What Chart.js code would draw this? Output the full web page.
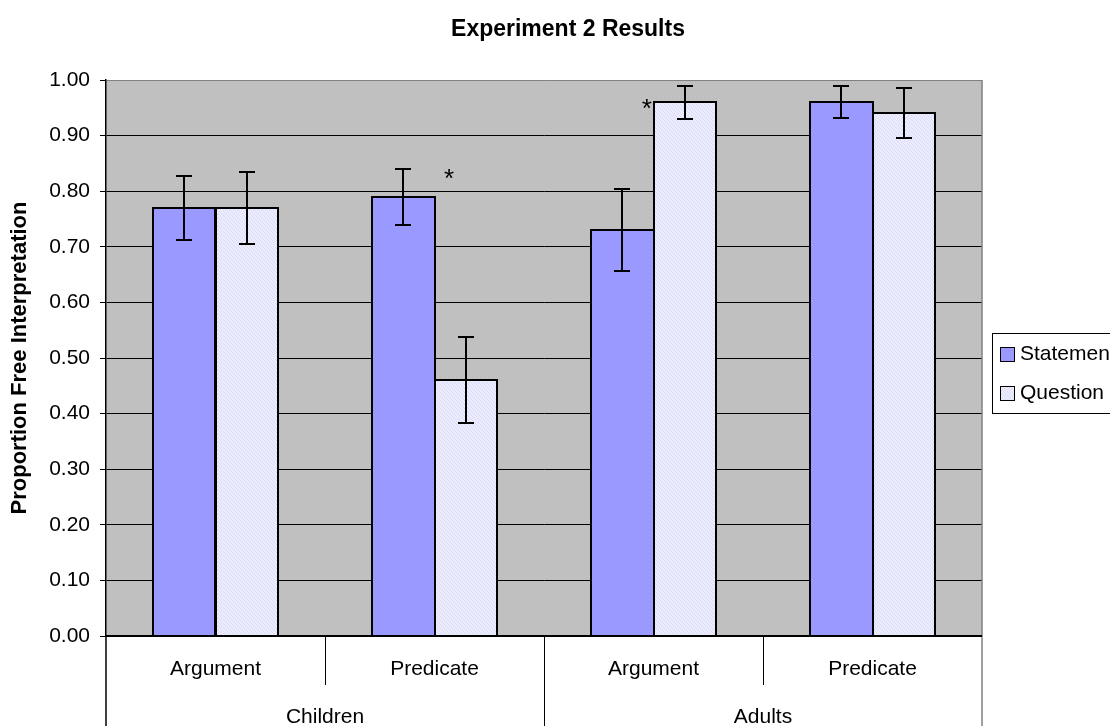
<!DOCTYPE html>
<html><head><meta charset="utf-8">
<script src="https://cdn.jsdelivr.net/npm/chart.js@4.4.1/dist/chart.umd.min.js"></script>
<style>html,body{margin:0;padding:0;background:#fff;overflow:hidden}canvas{display:block}</style>
</head><body>
<canvas id="c" width="1110" height="726"></canvas>
<script>
// ---- data ----
const chartTitle = 'Experiment 2 Results';
const yAxisTitle = 'Proportion Free Interpretation';
const categories = ['Argument', 'Predicate', 'Argument', 'Predicate'];
const groups = ['Children', 'Adults'];
const groupOfCategory = [0, 0, 1, 1];
const seriesNames = ['Statement', 'Question'];
const statementValues = [0.77, 0.79, 0.73, 0.96];
const questionValues = [0.77, 0.46, 0.96, 0.94];
const statementErrors = [0.057, 0.05, 0.074, 0.029];
const questionErrors = [0.065, 0.077, 0.03, 0.045];
const yTickValues = [0, 0.1, 0.2, 0.3, 0.4, 0.5, 0.6, 0.7, 0.8, 0.9, 1.0];
const significanceCategories = [1, 2];
const significanceValues = [0.829, 0.955];

// ---- styling ----
Chart.defaults.font.family = "'Liberation Sans', Arial, sans-serif";
Chart.defaults.color = '#000';
const FONT = "'Liberation Sans', Arial, sans-serif";
const canvas = document.getElementById('c');
const ctx0 = canvas.getContext('2d');

function makePattern(ctx) {
  const p = document.createElement('canvas');
  p.width = 4; p.height = 4;
  const g = p.getContext('2d');
  g.fillStyle = '#ececff'; g.fillRect(0, 0, 4, 4);
  g.fillStyle = '#d9d9f3';
  g.fillRect(0, 0, 1, 1); g.fillRect(2, 1, 1, 1); g.fillRect(1, 2, 1, 1); g.fillRect(3, 3, 1, 1);
  return ctx.createPattern(p, 'repeat');
}
const statementColor = '#9999ff';
const questionFill = makePattern(ctx0);
const seriesFills = [statementColor, questionFill];
const allErrors = [statementErrors, questionErrors];
const asteriskDx = [0.066, -0.03]; // fraction of category width

const decor = {
  id: 'decor',
  beforeDraw(chart) {
    const { ctx, chartArea: a } = chart;
    ctx.save();
    ctx.fillStyle = '#fff';
    ctx.fillRect(0, 0, chart.width, chart.height);
    ctx.fillStyle = '#c0c0c0';
    ctx.fillRect(a.left, a.top, a.right - a.left, a.bottom - a.top);
    ctx.restore();
  },
  afterDatasetsDraw(chart) {
    const { ctx } = chart;
    const y = chart.scales.y, x = chart.scales.x;
    ctx.save();
    ctx.strokeStyle = '#000';
    ctx.lineWidth = 2;
    // bar outlines
    chart.data.datasets.forEach((ds, i) => {
      chart.getDatasetMeta(i).data.forEach(bar => {
        const l = Math.round(bar.x - bar.width / 2), r = Math.round(bar.x + bar.width / 2);
        const t = Math.round(bar.y), b = Math.round(bar.base);
        ctx.beginPath();
        ctx.moveTo(l, b); ctx.lineTo(l, t); ctx.lineTo(r, t); ctx.lineTo(r, b);
        ctx.stroke();
      });
    });
    // error bars
    chart.data.datasets.forEach((ds, i) => {
      const meta = chart.getDatasetMeta(i);
      meta.data.forEach((bar, j) => {
        const v = ds.data[j], e = allErrors[i][j];
        const bx = Math.round(bar.x);
        const yt = Math.round(y.getPixelForValue(v + e)), yb = Math.round(y.getPixelForValue(v - e));
        ctx.beginPath();
        ctx.moveTo(bx, yt); ctx.lineTo(bx, yb);
        ctx.moveTo(bx - 8, yt); ctx.lineTo(bx + 8, yt);
        ctx.moveTo(bx - 8, yb); ctx.lineTo(bx + 8, yb);
        ctx.stroke();
      });
    });
    // significance asterisks
    const cw = x.getPixelForValue(1) - x.getPixelForValue(0);
    ctx.fillStyle = '#000';
    ctx.font = '26px ' + FONT;
    ctx.textAlign = 'center';
    ctx.textBaseline = 'alphabetic';
    significanceCategories.forEach((c, k) => {
      const px = x.getPixelForValue(c) + asteriskDx[k] * cw;
      const py = y.getPixelForValue(significanceValues[k]);
      ctx.fillText('*', px, py + 12);
    });
    ctx.restore();
  },
  afterDraw(chart) {
    const { ctx, chartArea: a } = chart;
    const x = chart.scales.x;
    const cw = x.getPixelForValue(1) - x.getPixelForValue(0);
    ctx.save();
    // plot right border
    ctx.strokeStyle = '#808080';
    ctx.lineWidth = 1.5;
    ctx.beginPath();
    ctx.moveTo(a.right, a.top); ctx.lineTo(a.right, chart.height);
    ctx.stroke();
    // bottom axis
    ctx.strokeStyle = '#000';
    ctx.lineWidth = 2;
    ctx.beginPath();
    ctx.moveTo(a.left - 1, a.bottom); ctx.lineTo(a.right, a.bottom);
    ctx.stroke();
    ctx.lineWidth = 1.5;
    ctx.beginPath();
    ctx.moveTo(a.left, a.bottom); ctx.lineTo(a.left, chart.height);
    ctx.stroke();
    // separators
    ctx.lineWidth = 1;
    for (let i = 1; i < categories.length; i++) {
      const bx = Math.round(x.getPixelForValue(i) - cw / 2) + 0.5;
      const full = groupOfCategory[i] !== groupOfCategory[i - 1];
      ctx.beginPath();
      ctx.moveTo(bx, a.bottom);
      ctx.lineTo(bx, full ? chart.height : a.bottom + 49);
      ctx.stroke();
    }
    // category labels
    ctx.fillStyle = '#000';
    ctx.font = '21px ' + FONT;
    ctx.textAlign = 'center';
    ctx.textBaseline = 'alphabetic';
    categories.forEach((c, i) => ctx.fillText(c, x.getPixelForValue(i), a.bottom + 39));
    groups.forEach((g, gi) => {
      const idx = groupOfCategory.map((v, i) => v === gi ? i : -1).filter(i => i >= 0);
      const l = x.getPixelForValue(idx[0]) - cw / 2;
      const r = x.getPixelForValue(idx[idx.length - 1]) + cw / 2;
      ctx.fillText(g, (l + r) / 2, a.bottom + 87);
    });
    // title
    ctx.font = 'bold 23px ' + FONT;
    ctx.fillText(chartTitle, 568, 36);
    // legend
    ctx.strokeStyle = '#000';
    ctx.lineWidth = 1;
    ctx.strokeRect(992.5, 333.5, 130, 80);
    ctx.font = '21px ' + FONT;
    ctx.textAlign = 'left';
    seriesNames.forEach((n, i) => {
      const sy = 347 + i * 39;
      ctx.fillStyle = seriesFills[i];
      ctx.fillRect(1000, sy, 14, 14);
      ctx.strokeRect(1000.5, sy + 0.5, 14, 14);
      ctx.fillStyle = '#000';
      ctx.fillText(n, 1020, sy + 13);
    });
    ctx.restore();
  }
};

new Chart(ctx0, {
  type: 'bar',
  data: {
    labels: categories,
    datasets: [
      { label: seriesNames[0], data: statementValues, backgroundColor: statementColor, borderWidth: 0 },
      { label: seriesNames[1], data: questionValues, backgroundColor: questionFill, borderWidth: 0 }
    ]
  },
  options: {
    responsive: false,
    animation: false,
    devicePixelRatio: 1,
    layout: { padding: { top: 80, right: 128, bottom: 0, left: 0 } },
    datasets: { bar: { categoryPercentage: 0.575, barPercentage: 1 } },
    plugins: { legend: { display: false }, title: { display: false }, tooltip: { enabled: false } },
    scales: {
      x: {
        ticks: { display: false },
        grid: { display: false, drawTicks: false },
        border: { display: false },
        afterFit(s) { s.height = 90; }
      },
      y: {
        min: 0, max: 1,
        afterFit(s) { s.width = 106; },
        afterBuildTicks(s) { s.ticks = yTickValues.map(v => ({ value: v })); },
        ticks: { font: { size: 21 }, color: '#000', padding: 10, callback: v => Number(v).toFixed(2) },
        grid: { color: c => (c.tick && c.tick.value === 1) ? '#808080' : '#000', lineWidth: 1, tickLength: 6, tickColor: '#000' },
        border: { color: '#000', width: 1.5 },
        title: { display: true, text: yAxisTitle, font: { size: 22, weight: 'bold' }, color: '#000', padding: { top: 7, bottom: 0 } }
      }
    }
  },
  plugins: [decor]
});
</script>
</body></html>
